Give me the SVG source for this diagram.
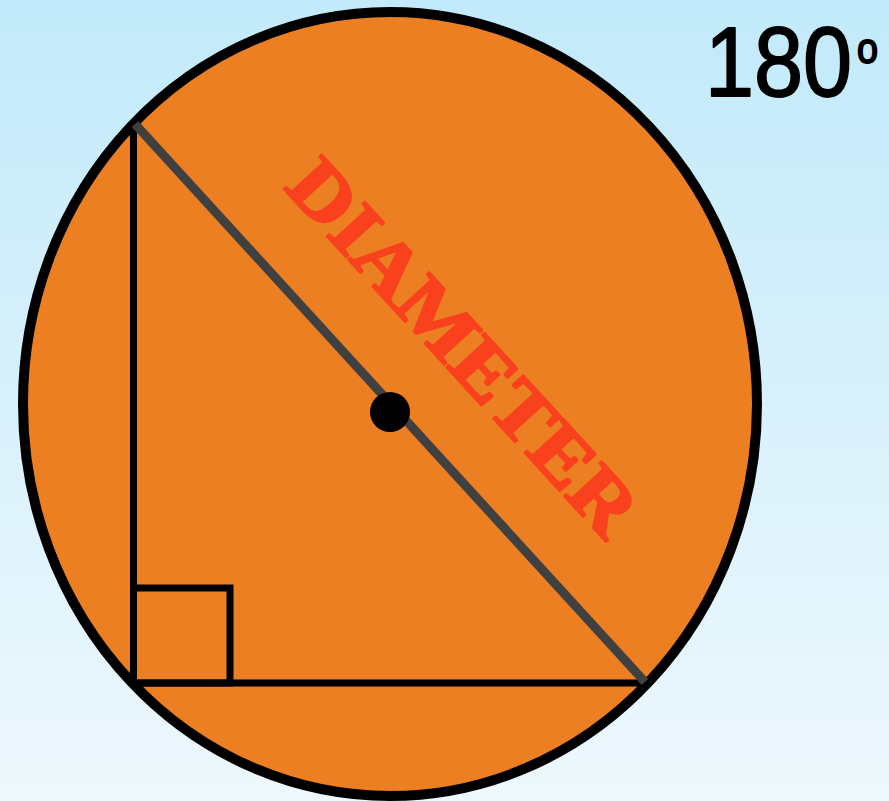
<svg xmlns="http://www.w3.org/2000/svg" width="889" height="801" viewBox="0 0 889 801">
<defs>
<linearGradient id="bg" x1="0" y1="0" x2="0" y2="1">
<stop offset="0" stop-color="#C2EAFA"/>
<stop offset="1" stop-color="#EEF8FD"/>
</linearGradient>
<style>
.blk{fill:none;stroke:#000;stroke-width:7}
.lbl{font-family:"Liberation Serif",serif;font-weight:bold;fill:#FA411E;stroke:#FA411E;stroke-width:2.5;stroke-linejoin:round}
.deg{font-family:"Liberation Sans",sans-serif;fill:#000;stroke:#000;stroke-width:1.8;stroke-linejoin:round}
</style>
</defs>
<rect x="0" y="0" width="889" height="801" fill="url(#bg)"/>
<g id="circle">
<ellipse cx="390" cy="404" rx="367" ry="392" fill="#EC7F22" stroke="#000" stroke-width="10"/>
</g>
<g id="triangle">
<polyline class="blk" points="133.5,126 133.5,683 643,683"/>
<rect class="blk" x="133.5" y="588" width="96.5" height="95"/>
</g>
<g id="connectors">
<line x1="135" y1="124" x2="645" y2="682" stroke="#404040" stroke-width="9"/>
</g>
<g id="center">
<circle cx="390" cy="412" r="20" fill="#000"/>
</g>
<g id="label">
<text class="lbl" font-size="78" transform="translate(283,188) rotate(47.6)" textLength="478" lengthAdjust="spacingAndGlyphs">DIAMETER</text>
</g>
<g id="angle">
<text class="deg" font-size="98" transform="translate(705,96) scale(0.9,1)">180<tspan x="169" y="-33" font-size="42">o</tspan></text>
</g>
</svg>
